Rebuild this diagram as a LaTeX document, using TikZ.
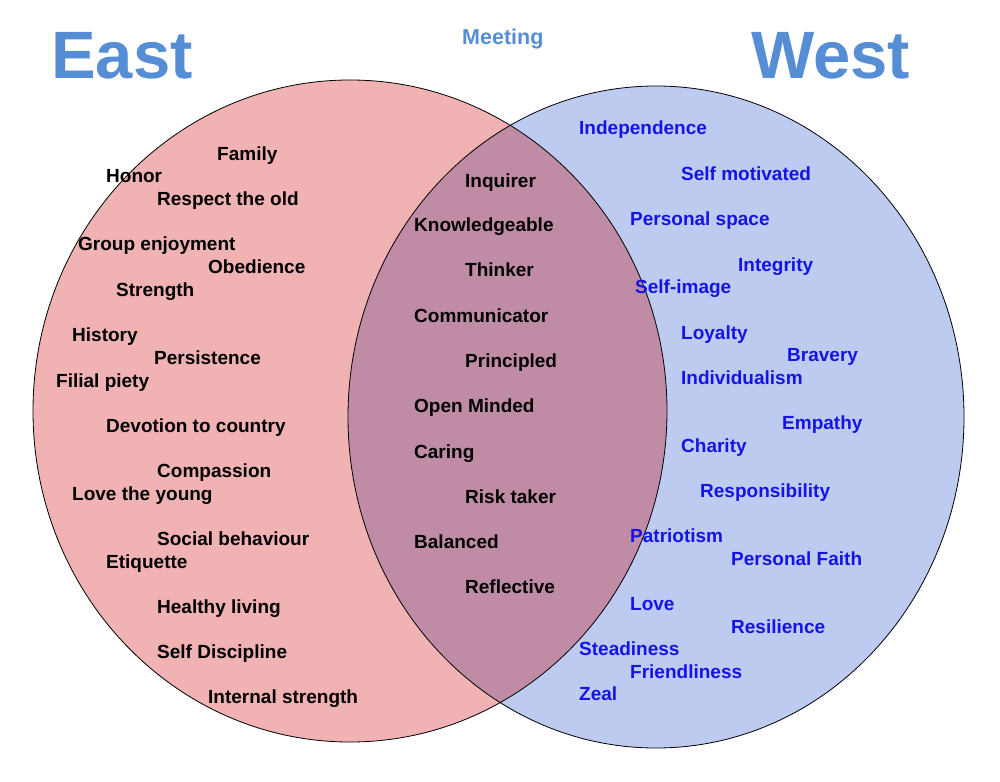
\documentclass[tikz,border=0pt]{standalone}
\usepackage{fontspec}
\setmainfont{Liberation Sans}
\begin{document}
\begin{tikzpicture}[x=1pt,y=-1pt,
  lbl/.style={anchor=base west,inner sep=0pt,font=\bfseries\fontsize{19}{21}\selectfont},
  east/.style={lbl,text=black},
  mid/.style={lbl,text=black},
  west/.style={lbl,text={rgb,255:red,20;green,20;blue,230}},
  title/.style={inner sep=0pt,font=\bfseries\fontsize{67}{70}\selectfont,text={rgb,255:red,85;green,142;blue,213}}]
\definecolor{lfill}{RGB}{240,178,178}
\definecolor{rfill}{RGB}{189,203,240}
\definecolor{ofill}{RGB}{192,140,165}
\useasboundingbox (0,0) rectangle (1000,781);
\fill[white] (0,0) rectangle (1000,781);
\fill[lfill] (350,411) ellipse [x radius=317,y radius=331];
\fill[rfill] (656,417) ellipse [x radius=308,y radius=331];
\begin{scope}
\clip (350,411) ellipse [x radius=317,y radius=331];
\fill[ofill] (656,417) ellipse [x radius=308,y radius=331];
\end{scope}
\draw[line width=0.8pt] (350,411) ellipse [x radius=317,y radius=331];
\draw[line width=0.8pt] (656,417) ellipse [x radius=308,y radius=331];
\node[title,anchor=base west] (tE) at (51,79) {East};
\node[title,anchor=base west] (tW) at (751,79) {West};
\node[inner sep=0pt,anchor=base west,font=\bfseries\fontsize{21.5}{24}\selectfont,text={rgb,255:red,85;green,142;blue,213}] (meet) at (462,45) {Meeting};
% East
\node[east] (e1) at (217,160) {Family};
\node[east] (e2) at (106,182) {Honor};
\node[east] (e3) at (157,205) {Respect the old};
\node[east] (e4) at (78,250) {Group enjoyment};
\node[east] (e5) at (208,273) {Obedience};
\node[east] (e6) at (116,296) {Strength};
\node[east] (e7) at (72,341) {History};
\node[east] (e8) at (154,364) {Persistence};
\node[east] (e9) at (56,387) {Filial piety};
\node[east] (e10) at (106,432) {Devotion to country};
\node[east] (e11) at (157,477) {Compassion};
\node[east] (e12) at (72,500) {Love the young};
\node[east] (e13) at (157,545) {Social behaviour};
\node[east] (e14) at (106,568) {Etiquette};
\node[east] (e15) at (157,613) {Healthy living};
\node[east] (e16) at (157,658) {Self Discipline};
\node[east] (e17) at (208,703) {Internal strength};
% Middle
\node[mid] (m1) at (465,187) {Inquirer};
\node[mid] (m2) at (414,231) {Knowledgeable};
\node[mid] (m3) at (465,276) {Thinker};
\node[mid] (m4) at (414,322) {Communicator};
\node[mid] (m5) at (465,367) {Principled};
\node[mid] (m6) at (414,412) {Open Minded};
\node[mid] (m7) at (414,458) {Caring};
\node[mid] (m8) at (465,503) {Risk taker};
\node[mid] (m9) at (414,548) {Balanced};
\node[mid] (m10) at (465,593) {Reflective};
% West
\node[west] (w1) at (579,135) {Independence};
\node[west] (w2) at (681,180) {Self motivated};
\node[west] (w3) at (630,225) {Personal space};
\node[west] (w4) at (738,271) {Integrity};
\node[west] (w5) at (635,293) {Self-image};
\node[west] (w6) at (681,339) {Loyalty};
\node[west] (w7) at (787,361) {Bravery};
\node[west] (w8) at (681,384) {Individualism};
\node[west] (w9) at (782,429) {Empathy};
\node[west] (w10) at (681,452) {Charity};
\node[west] (w11) at (700,497) {Responsibility};
\node[west] (w12) at (630,542) {Patriotism};
\node[west] (w13) at (731,565) {Personal Faith};
\node[west] (w14) at (630,610) {Love};
\node[west] (w15) at (731,633) {Resilience};
\node[west] (w16) at (579,655) {Steadiness};
\node[west] (w17) at (630,678) {Friendliness};
\node[west] (w18) at (579,700) {Zeal};
\end{tikzpicture}
\end{document}
